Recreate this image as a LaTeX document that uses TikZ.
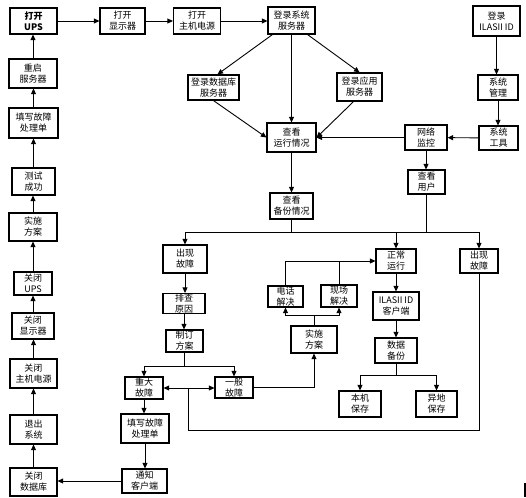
\documentclass[tikz,border=0pt]{standalone}
\usepackage{fontspec}
\newfontfamily\cjk{Noto Sans CJK SC}
\usetikzlibrary{arrows.meta}
\begin{document}
\begin{tikzpicture}[x=1pt,y=-1pt,
 box/.style={draw,line width=1.2pt,inner sep=0pt,align=center,font=\cjk\fontsize{9}{11}\selectfont},
 wh/.style 2 args={minimum width=#1pt,minimum height=#2pt},
 ln/.style={line width=0.9pt},
 arr/.style={ln,-{Triangle[length=5.5pt,width=5pt]}}]
\useasboundingbox (0,0) rectangle (526,497);
% top row
\node[box,wh={47}{26},font=\cjk\bfseries\fontsize{9}{11}\selectfont] (openups) at (33.5,21) {打开\\UPS};
\node[box,wh={45}{26}] (openmon) at (122.5,21) {打开\\显示器};
\node[box,wh={47}{26}] (openhost) at (197,21) {打开\\主机电源};
\node[box,wh={47}{27}] (loginsys) at (291.5,20.5) {登录系统\\服务器};
\node[box,wh={51}{25}] (logindb) at (213.5,87.5) {登录数据库\\服务器};
\node[box,wh={45}{28}] (loginapp) at (359.5,87) {登录应用\\服务器};
\node[box,wh={49}{29}] (viewrun) at (291.5,137.5) {查看\\运行情况};
\node[box,wh={43}{26}] (viewbak) at (291.5,206) {查看\\备份情况};
\node[box,wh={47}{30}] (loginil) at (496.5,21) {登录\\ILASII ID};
\node[box,wh={40}{25}] (sysmgmt) at (498,87.5) {系统\\管理};
\node[box,wh={39}{24}] (systool) at (498.5,138) {系统\\工具};
\node[box,wh={42}{25}] (netmon) at (426,137.5) {网络\\监控};
\node[box,wh={37}{24}] (viewuser) at (426.5,182) {查看\\用户};
% middle
\node[box,wh={44}{28}] (fault1) at (185,259) {出现\\故障};
\node[box,wh={42}{20}] (cause) at (184,303.5) {排查\\原因};
\node[box,wh={37}{22}] (plan1) at (184.5,341) {制订\\方案};
\node[box,wh={40}{24}] (normal) at (396,261) {正常\\运行};
\node[box,wh={38}{24}] (fault2) at (479,261) {出现\\故障};
\node[box,wh={35}{21}] (phone) at (285.5,296.5) {电话\\解决};
\node[box,wh={36}{22}] (onsite) at (339,296) {现场\\解决};
\node[box,wh={46}{27}] (plan2) at (314,339.5) {实施\\方案};
\node[box,wh={46}{28}] (ilclient) at (396,306) {ILASII ID\\客户端};
\node[box,wh={42}{25}] (databak) at (396,350.5) {数据\\备份};
\node[box,wh={42}{26}] (localsave) at (360,404) {本机\\保存};
\node[box,wh={41}{26}] (remotesave) at (436.5,404) {异地\\保存};
\node[box,wh={38}{22}] (major) at (144,388) {重大\\故障};
\node[box,wh={38}{21}] (minor) at (234,387.5) {一般\\故障};
\node[box,wh={48}{29}] (fillform2) at (145,428.5) {填写故障\\处理单};
\node[box,wh={45}{24}] (notify) at (144.5,481) {通知\\客户端};
% left column
\node[box,wh={48}{29}] (restart) at (33,73.5) {重启\\服务器};
\node[box,wh={49}{30}] (fillform1) at (33.5,123) {填写故障\\处理单};
\node[box,wh={43}{27}] (testok) at (33.5,181.5) {测试\\成功};
\node[box,wh={48}{28}] (plan3) at (33,227) {实施\\方案};
\node[box,wh={38}{23}] (closeups) at (33,283.5) {关闭\\UPS};
\node[box,wh={42}{26}] (closemon) at (33,326) {关闭\\显示器};
\node[box,wh={47}{29}] (closehost) at (33.5,373.5) {关闭\\主机电源};
\node[box,wh={47}{29}] (exitsys) at (33.5,429.5) {退出\\系统};
\node[box,wh={47}{28}] (closedb) at (33.5,482) {关闭\\数据库};
% left column chain
\draw[arr] (closedb) -- (closedb |- exitsys.south);
\draw[arr] (exitsys) -- (exitsys |- closehost.south);
\draw[arr] (closehost) -- (closehost |- closemon.south);
\draw[arr] (closemon) -- (closemon |- closeups.south);
\draw[arr] (closeups) -- (closeups |- plan3.south);
\draw[arr] (plan3) -- (plan3 |- testok.south);
\draw[arr] (testok) -- (testok |- fillform1.south);
\draw[arr] (fillform1) -- (fillform1 |- restart.south);
\draw[arr] (restart) -- (restart |- openups.south);
\draw[arr] (openups) -- (openmon);
\draw[arr] (openmon) -- (openhost);
\draw[arr] (openhost) -- (loginsys.west |- openhost);
% login fan
\draw[arr] ([xshift=5pt]loginsys.south west) -- ([xshift=4pt]logindb.north);
\draw[arr] (loginsys) -- (loginsys |- viewrun.north);
\draw[arr] ([xshift=-8pt]loginsys.south east) -- (loginapp.north);
\draw[arr] (logindb.south) -- (viewrun.west);
\draw[arr] ([xshift=-6pt]loginapp.south) -- (viewrun.east);
\draw[arr] (viewrun) -- (viewrun |- viewbak.north);
% right column
\draw[arr] (loginil) -- (loginil |- sysmgmt.north);
\draw[arr] (sysmgmt) -- (sysmgmt |- systool.north);
\draw[arr] (systool) -- (netmon);
\draw[arr] (netmon.west) -- (viewrun.east |- netmon.west);
\draw[arr] (netmon) -- (netmon |- viewuser.north);
% branch after backup view
\coordinate (j2) at (291.5,232);
\draw[ln] (viewbak) -- (j2);
\draw[ln] (viewuser) -- (viewuser |- j2);
\draw[arr] (j2) -| (fault1);
\draw[arr] (j2) -| (normal);
\draw[arr] (j2) -| (fault2);
% left fault chain
\draw[arr] (fault1) -- (fault1 |- cause.north);
\draw[arr] (cause) -- (cause |- plan1.north);
\coordinate (j1) at (184.5,366);
\draw[ln] (plan1) -- (j1);
\draw[arr] (j1) -| (major);
\draw[arr] (j1) -| (minor);
\draw[arr] (major) -- (major |- fillform2.north);
\draw[arr] (fillform2) -- (fillform2 |- notify.north);
\draw[arr] (notify) -- (notify -| closedb.east);
\draw[arr] (minor.east) -| (plan2.south);
% plan2 to solutions
\coordinate (j3) at (314,315);
\draw[ln] (plan2) -- (j3);
\draw[arr] (j3) -| (phone);
\draw[arr] (j3) -| (onsite);
\draw[arr] (phone.north) |- (normal.west);
\draw[ln] (onsite.north) -- (onsite.north |- normal.west);
% normal chain
\draw[arr] (normal) -- (normal |- ilclient.north);
\draw[arr] (ilclient) -- (ilclient |- databak.north);
\coordinate (j4) at (396,375);
\draw[ln] (databak) -- (j4);
\draw[arr] (j4) -| (localsave);
\draw[arr] (j4) -| (remotesave);
% right fault loop
\coordinate (j5) at (188,388);
\coordinate (j6) at (188,430);
\draw[ln] (fault2) |- (j6) -- (j5);
\draw[arr] (j5) -- (major.east |- j5);
\draw[arr] (j5) -- (minor.west |- j5);
% stray mark
\fill (524,483) rectangle (526,497);
\end{tikzpicture}
\end{document}
